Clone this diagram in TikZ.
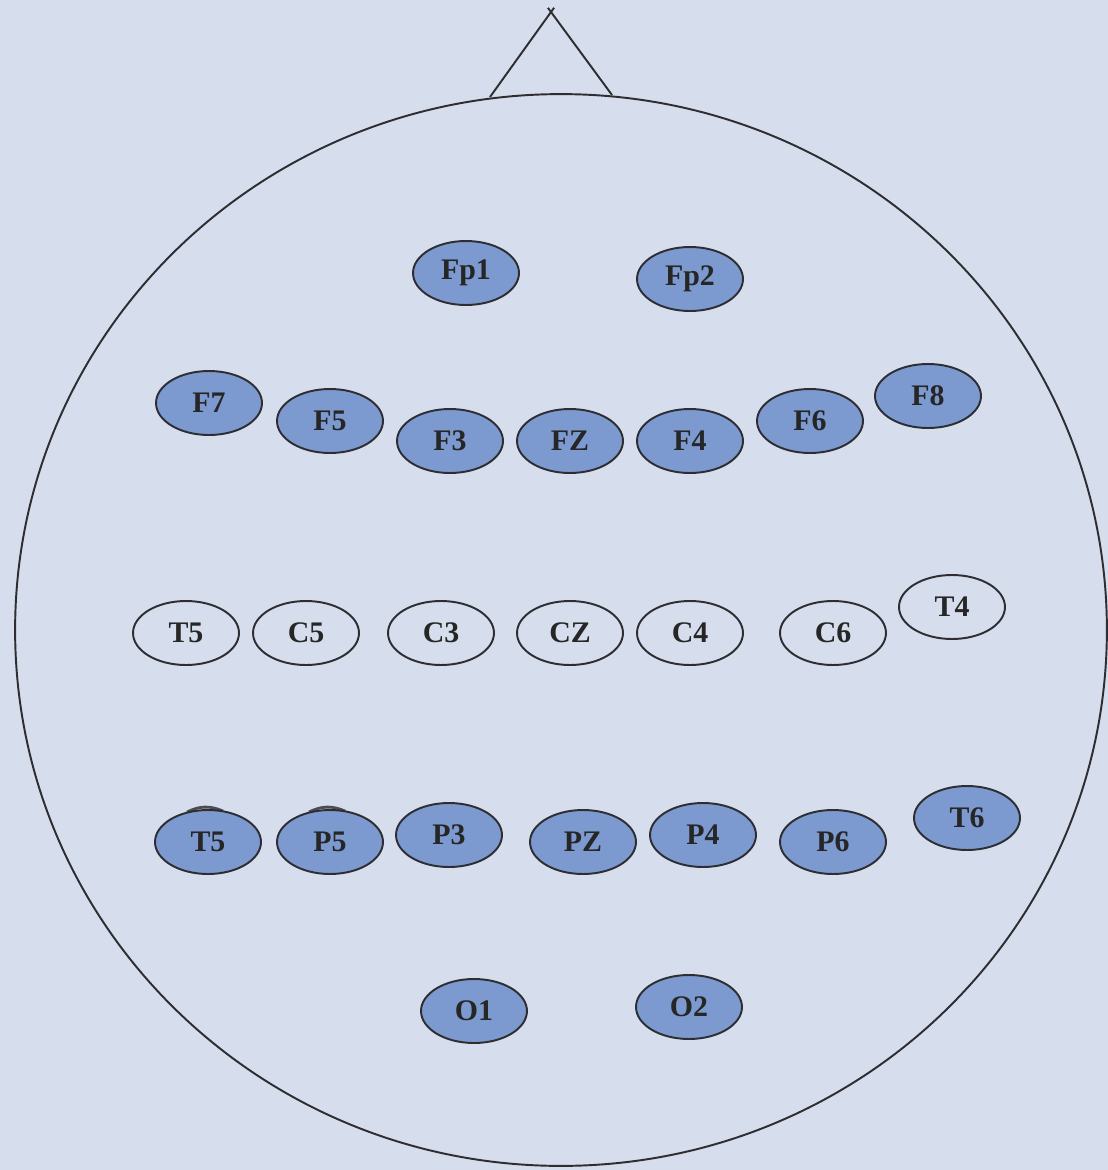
\documentclass[tikz,border=0pt]{standalone}
\usepackage{fontspec}
\setmainfont{Liberation Serif}
\usetikzlibrary{shapes.geometric,calc,backgrounds}

\definecolor{paper}{RGB}{214,221,236}
\definecolor{elecfill}{RGB}{124,154,207}
\definecolor{inkline}{RGB}{45,45,50}

\tikzset{
  outline/.style={draw=inkline, line width=1.1pt},
  elec/.style={ellipse, outline, minimum width=2.12cm,
    minimum height=1.28cm, inner sep=0pt, font=\bfseries\fontsize{17}{17}\selectfont,
    text=black!85},
  active/.style={elec, fill=elecfill},
  passive/.style={elec}
}

\begin{document}
\begin{tikzpicture}[x=0.02cm, y=-0.02cm]
    \useasboundingbox (0,0) rectangle (1108,1170);
    \begin{pgfonlayer}{background}
      \fill[paper] (0,0) rectangle (1108,1170);
    \end{pgfonlayer}
    % ---- head outline and nose
    \draw[outline] (561,630) ellipse [x radius=10.92cm, y radius=10.72cm];
    \coordinate (apex)  at (551,12);
    \coordinate (noseL) at (490,97);
    \coordinate (noseR) at (612,95);
    \draw[outline] (noseL) -- ($(noseL)!1.05!(apex)$);
    \draw[outline] (noseR) -- ($(noseR)!1.05!(apex)$);
    % ---- frontal pole
    \node[active] (fpone) at (466,273) {Fp1};
    \node[active] (fptwo) at (690,279) {Fp2};
    % ---- frontal row
    \node[active] (fseven) at (209,403) {F7};
    \node[active] (ffive)  at (330,421) {F5};
    \node[active] (fthree) at (450,441) {F3};
    \node[active] (fz)     at (570,441) {FZ};
    \node[active] (ffour)  at (690,441) {F4};
    \node[active] (fsix)   at (810,421) {F6};
    \node[active] (feight) at (928,396) {F8};
    % ---- central row (not filled)
    \node[passive] (tfivea) at (186,633) {T5};
    \node[passive] (cfive)  at (306,633) {C5};
    \node[passive] (cthree) at (441,633) {C3};
    \node[passive] (cz)     at (570,633) {CZ};
    \node[passive] (cfour)  at (690,633) {C4};
    \node[passive] (csix)   at (833,633) {C6};
    \node[passive] (tfour)  at (952,607) {T4};
    % ---- parietal row
    \node[active] (tfiveb) at (208,842) {T5};
    \node[active] (pfive)  at (330,842) {P5};
    \node[active] (pthree) at (449,835) {P3};
    \node[active] (pz)     at (583,842) {PZ};
    \node[active] (pfour)  at (703,835) {P4};
    \node[active] (psix)   at (833,842) {P6};
    \node[active] (tsix)   at (967,818) {T6};
    \begin{pgfonlayer}{background}
      \foreach \u in {tfiveb,pfive}
        { \draw[inkline!85, line width=1.6pt] ($(\u.north)+(-21,3)$) to[bend left=25] ($(\u.north)+(15,2)$); }
    \end{pgfonlayer}
    % ---- occipital
    \node[active] (oone) at (474,1011) {O1};
    \node[active] (otwo) at (689,1007) {O2};
\end{tikzpicture}
\end{document}
